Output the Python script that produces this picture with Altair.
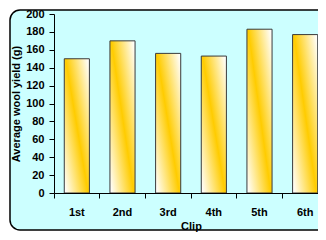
import altair as alt
import pandas as pd

clips = ["1st", "2nd", "3rd", "4th", "5th", "6th"]
yields = [150, 170, 156, 153, 183, 177]
y_ticks = [0, 20, 40, 60, 80, 100, 120, 140, 160, 180, 200]

df = pd.DataFrame({"clip": clips, "yield": yields})

FONT = "Liberation Sans"

bg = alt.Chart(pd.DataFrame({"a": [0]})).mark_rect(
    fill="#CCFFFF", stroke="black", strokeWidth=1.5, cornerRadius=10
).encode(
    x=alt.value(-44), x2=alt.value(300),
    y=alt.value(-4), y2=alt.value(216),
)

bars = alt.Chart(df).mark_bar(
    width=alt.RelativeBandSize(0.55),
    stroke="#3a3a3a", strokeWidth=1,
    color=alt.Gradient(
        gradient="linear",
        stops=[alt.GradientStop(color="#FFFFFF", offset=0),
               alt.GradientStop(color="#FFCC00", offset=0.5),
               alt.GradientStop(color="#FFFFFF", offset=1)],
        x1=0, y1=0.95, x2=1, y2=0.05,
    ),
).encode(
    x=alt.X("clip:N", sort=clips, title="Clip",
            scale=alt.Scale(range=[0, 274], paddingInner=0, paddingOuter=0),
            axis=alt.Axis(labelAngle=0, bandPosition=0, tickSize=5, zindex=1,
                          labelPadding=8, titlePadding=3)),
    y=alt.Y("yield:Q", title="Average wool yield (g)",
            scale=alt.Scale(domain=[0, 200], nice=False),
            axis=alt.Axis(values=y_ticks, tickSize=5, labelPadding=5, zindex=1,
                          titlePadding=4, grid=False)),
)

chart = alt.layer(bg, bars).properties(
    width=264, height=179,
    autosize=alt.AutoSizeParams(type="none"),
    padding={"left": 46, "top": 6, "right": 0, "bottom": 39},
    background="white",
).configure_view(stroke=None).configure_axis(
    domainColor="black", domainWidth=1,
    tickColor="black", tickWidth=1,
    labelFont=FONT, labelFontSize=11, labelFontWeight="bold", labelColor="black",
    titleFont=FONT, titleFontSize=11, titleFontWeight="bold", titleColor="black",
)

chart.save("out.html", embed_options={"renderer": "svg", "actions": False})
